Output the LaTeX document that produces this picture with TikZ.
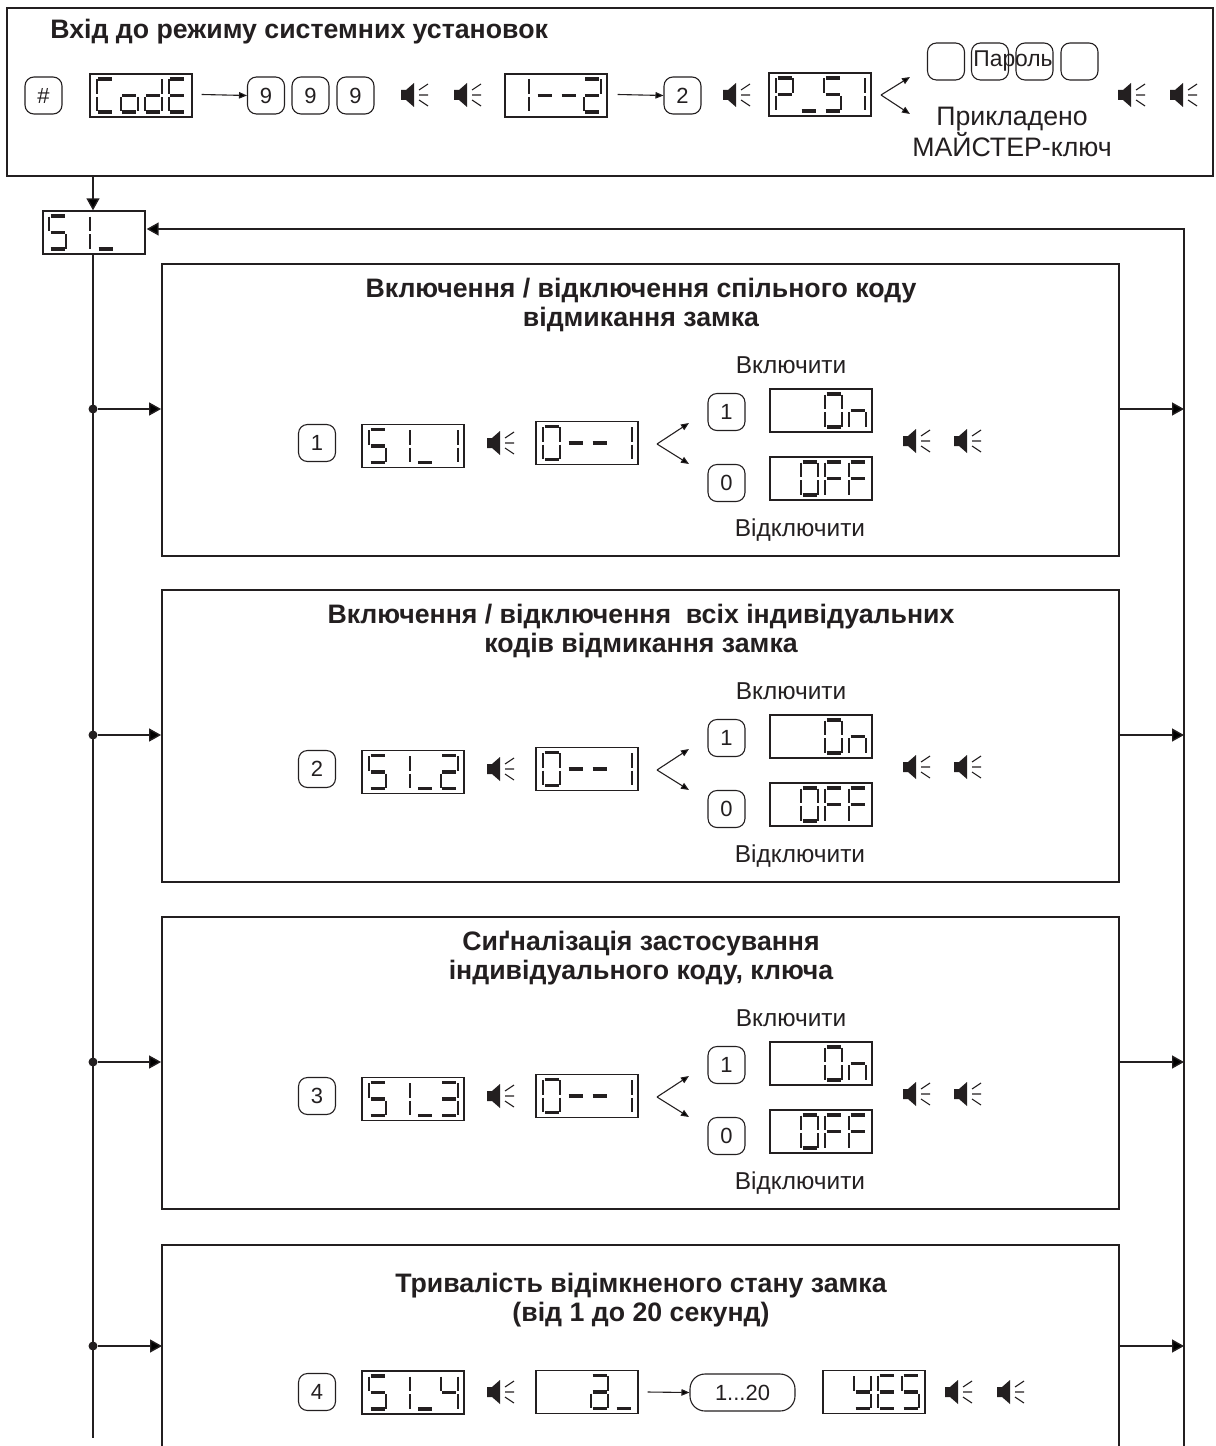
\documentclass[tikz,border=0pt]{standalone}
\usepackage{fontspec}
\setmainfont{Liberation Sans}
\usetikzlibrary{arrows.meta, positioning, calc}
\definecolor{inkdark}{HTML}{231F20}

% seven segment display: segment lists per character
\def\segS{a,f,g,c,d}\def\segC{a,f,e,d}\def\sego{c,d,e,g}\def\segd{b,c,d,e,g}
\def\segE{a,f,g,e,d}\def\segP{a,b,f,g,e}\def\sega{a,b,c,d,e,g}\def\segn{c,e,g}
\def\segO{a,b,c,d,e,f}\def\segF{a,f,g,e}\def\segY{b,c,d,f,g}
\expandafter\def\csname seg0\endcsname{a,b,c,d,e,f}
\expandafter\def\csname seg1\endcsname{b,c}
\expandafter\def\csname seg2\endcsname{a,b,g,e,d}
\expandafter\def\csname seg3\endcsname{a,b,g,c,d}
\expandafter\def\csname seg4\endcsname{f,g,b,c}
\expandafter\def\csname seg-\endcsname{g}
\expandafter\def\csname seg_\endcsname{d}
\newcommand\lcdglyph[1]{%
  \begin{tikzpicture}[x=0.02cm, y=0.02cm, line width=0.075cm, draw=inkdark]
    \useasboundingbox (0,0) rectangle (17,34);
    \edef\lcdlist{\csname seg#1\endcsname}
    \foreach \sg in \lcdlist {
      \ifx\sg\lcdA \draw (1.5,33.5) -- (15.5,33.5); \fi
      \ifx\sg\lcdB \draw[line width=0.055cm] (17,33) -- (17,18.5); \fi
      \ifx\sg\lcdC \draw[line width=0.055cm] (17,15.5) -- (17,1); \fi
      \ifx\sg\lcdD \draw (1.5,0.5) -- (15.5,0.5); \fi
      \ifx\sg\lcdE \draw[line width=0.055cm] (0,15.5) -- (0,1); \fi
      \ifx\sg\lcdF \draw[line width=0.055cm] (0,33) -- (0,18.5); \fi
      \ifx\sg\lcdG \draw (1.5,17) -- (15.5,17); \fi
    }
  \end{tikzpicture}%
}
\def\lcdA{a}\def\lcdB{b}\def\lcdC{c}\def\lcdD{d}\def\lcdE{e}\def\lcdF{f}\def\lcdG{g}
\def\lcdgo#1{\ifx#1\relax\else\lcdglyph{#1}\hspace{0.14cm}\expandafter\lcdgo\fi}
\newcommand\lcd[1]{\leavevmode\hbox{\lcdgo#1\relax\hspace{-0.14cm}}}

\tikzset{
  x=0.02cm, y=-0.02cm,
  every node/.style={font=\fontsize{13.9}{15}\selectfont, text=inkdark, inner sep=0pt},
  framebox/.style={rectangle, draw=inkdark, line width=0.04cm},
  lcdbox/.style={rectangle, draw=inkdark, line width=0.028cm, minimum width=2.04cm, minimum height=0.86cm, text width=1.8cm, align=right},
  keybox/.style={rectangle, rounded corners=0.18cm, draw=inkdark, line width=0.022cm, minimum width=0.74cm, minimum height=0.74cm, font=\fontsize{12.5}{14}\selectfont},
  headtext/.style={align=center, font=\fontsize{15.2}{16.5}\selectfont\bfseries},
  smalltext/.style={font=\fontsize{13.9}{15}\selectfont},
  flowline/.style={draw=inkdark, line width=0.028cm},
  bigarrow/.style={flowline, -{Triangle[length=0.24cm, width=0.26cm]}},
  thinarrow/.style={draw=inkdark, line width=0.022cm, -{Triangle[length=0.16cm, width=0.13cm]}},
  junction/.style={circle, fill=inkdark, minimum size=0.18cm},
  speaker/.pic={
    \fill[inkdark] (0,-5) -- (5,-5) -- (13,-12) -- (13,12) -- (5,5) -- (0,5) -- cycle;
    \draw[inkdark, line width=0.022cm] (18,-5) -- (27,-11) (18,0) -- (27,0) (18,5) -- (27,11);
  },
}

\newcommand\switchpanel[5]{%
\begin{scope}[shift={(0,#2)}]
\node[framebox, minimum width=19.14cm, minimum height=5.84cm] (panel#1) at (640.5,410) {};
\node[headtext] (head#1) at (641,305) {#5};
\node[junction] (tap#1) at (93,409) {};
\coordinate (out#1) at (1184,409);
\draw[bigarrow] (tap#1) -- (tap#1 -| panel#1.west);
\draw[bigarrow] (panel#1.east |- out#1) -- (out#1);
\node[keybox] (num#1) at (317,443) {#3};
\node[lcdbox] (code#1) at (413,446) {\lcd{#4}};
\pic at (487,443) {speaker};
\node[lcdbox] (ask#1) at (587,443) {\lcd{0--1}};
\coordinate (fork#1) at (657,444);
\coordinate (up#1) at (689,423);
\coordinate (dn#1) at (689,464);
\draw[thinarrow] (fork#1) -- (up#1);
\draw[thinarrow] (fork#1) -- (dn#1);
\node[smalltext] (ontext#1) at (791,365) {Включити};
\node[keybox] (one#1) at (726.5,412) {1};
\node[lcdbox] (on#1) at (821,410.5) {\lcd{On}};
\node[keybox] (zero#1) at (726.5,483) {0};
\node[lcdbox] (off#1) at (821,478.5) {\lcd{OFF}};
\node[smalltext] (offtext#1) at (800,530) {Відключити};
\pic at (903,441) {speaker};
\pic at (954,441) {speaker};
\end{scope}
}

\begin{document}
\begin{tikzpicture}
\useasboundingbox (0,0) rectangle (1215,1446);

\node[framebox, minimum width=24.12cm, minimum height=3.36cm] (entry) at (610,92) {};
\node[headtext, anchor=west] (entryhead) at (50,32) {Вхід до режиму системних установок};

\node[keybox] (hash) at (43.5,95.5) {\#};
\node[lcdbox] (code) at (141,95.5) {\lcd{CodE}};
\node[keybox] (nine1) at (266,95.5) {9};
\node[keybox] (nine2) at (310.5,95.5) {9};
\node[keybox] (nine3) at (355.5,95.5) {9};
\draw[thinarrow] (code.east) ++(9,-1) -- (nine1.west);
\pic at (401,95) {speaker};
\pic at (454,95) {speaker};
\node[lcdbox] (level) at (556,95.5) {\lcd{1--2}};
\node[keybox] (two) at (682.5,95.5) {2};
\draw[thinarrow] (level.east) ++(10,-1) -- (two.west);
\pic at (723,95) {speaker};
\node[lcdbox] (pass) at (820,94.5) {\lcd{P_S1}};
\coordinate (forkpass) at (881,95);
\coordinate (uppass) at (910,77);
\coordinate (dnpass) at (910,114);
\draw[thinarrow] (forkpass) -- (uppass);
\draw[thinarrow] (forkpass) -- (dnpass);
\node[keybox] (pw1) at (946,61.5) {};
\node[keybox] (pw2) at (990,61.5) {};
\node[keybox] (pw3) at (1034.5,61.5) {};
\node[keybox] (pw4) at (1079.5,61.5) {};
\node[smalltext, font=\fontsize{13}{14}\selectfont] (pwtext) at (1013,61) {Пароль};
\node[align=center, font=\fontsize{15.2}{16.2}\selectfont] (master) at (1012,132) {Прикладено\\МАЙСТЕР-ключ};
\pic at (1118,95) {speaker};
\pic at (1170,95) {speaker};

\node[lcdbox, align=left] (menu) at (94,232.5) {\lcd{S1_}};
\coordinate (trunkend) at (93,1438);
\coordinate (returnend) at (1184,1446);
\draw[bigarrow] (entry.south -| trunkend) -- (menu.north -| trunkend);
\draw[flowline] (menu.south -| trunkend) -- (trunkend);
\draw[bigarrow] (returnend) |- ($(menu.east)+(1,-3.5)$);

\switchpanel{1}{0}{1}{S1_1}{Включення / відключення спільного коду\\відмикання замка}
\switchpanel{2}{326}{2}{S1_2}{Включення / відключення\ \ всіх індивідуальних\\кодів відмикання замка}
\switchpanel{3}{653}{3}{S1_3}{Сиґналізація застосування\\індивідуального коду, ключа}

% last panel runs off the page
\coordinate (time) at (640.5,1245);
\draw[framebox] (162,1446) |- (time) -| (1119,1446);
\node[headtext] (headtime) at (641,1300) {Тривалість відімкненого стану замка\\(від 1 до 20 секунд)};
\node[junction] (taptime) at (93,1346) {};
\coordinate (outtime) at (1184,1346);
\draw[bigarrow] (taptime) -- (162,1346);
\draw[bigarrow] (1119,1346) -- (outtime);
\node[keybox] (numtime) at (317,1392) {4};
\node[lcdbox] (codetime) at (413,1392.5) {\lcd{S1_4}};
\pic at (487,1392) {speaker};
\node[lcdbox] (asktime) at (587,1392) {\lcd{a_}};
\node[keybox, minimum width=2.1cm, rounded corners=0.3cm] (range) at (742.5,1392.5) {1...20};
\draw[thinarrow] (asktime.east) ++(9,0) -- (range.west);
\node[lcdbox] (yes) at (874,1392) {\lcd{YES}};
\pic at (945,1392) {speaker};
\pic at (997,1392) {speaker};
\end{tikzpicture}
\end{document}
